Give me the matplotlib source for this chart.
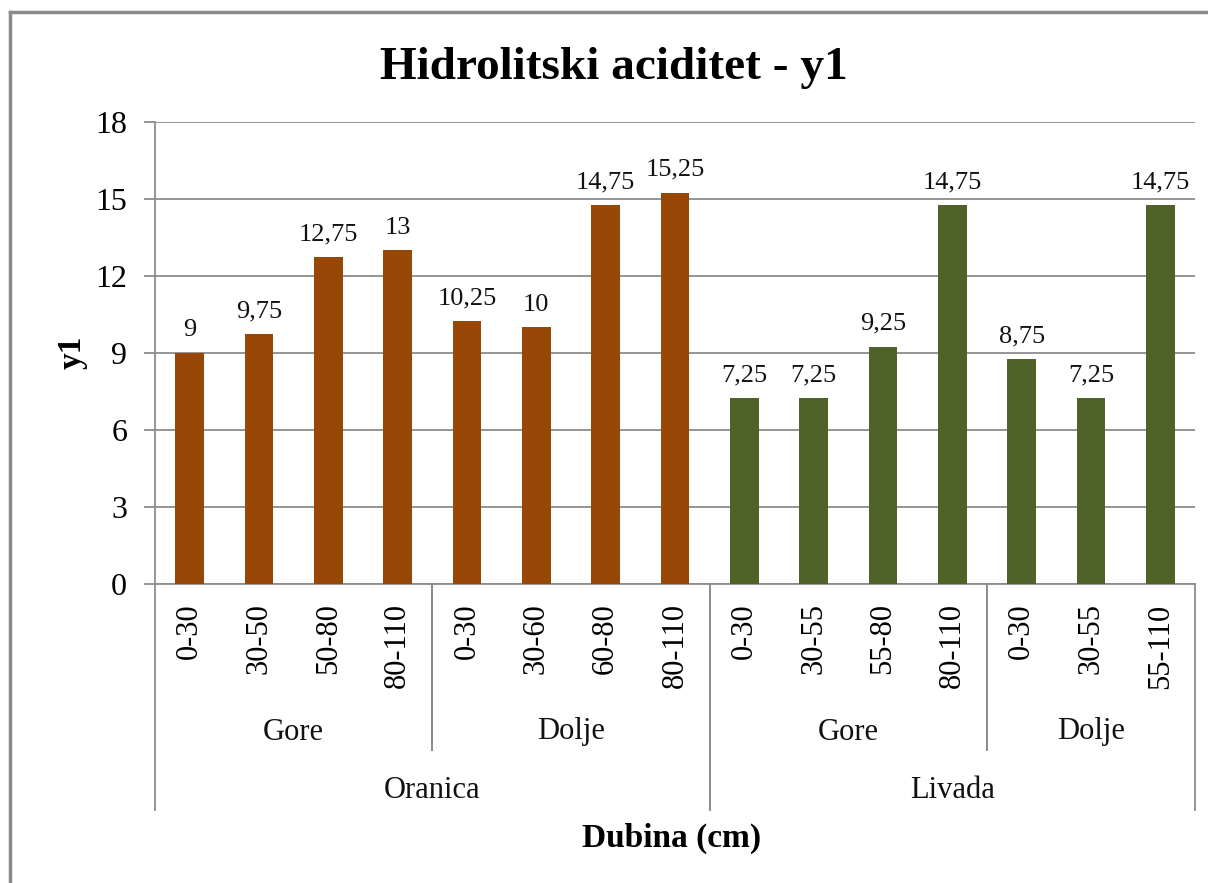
import matplotlib
matplotlib.use("Agg")
import matplotlib.pyplot as plt
import matplotlib.transforms as mtransforms
from matplotlib.lines import Line2D

plt.rcParams['font.family'] = ['Liberation Serif', 'DejaVu Serif']

# ---- data ----
depths = ["0-30", "30-50", "50-80", "80-110",
          "0-30", "30-60", "60-80", "80-110",
          "0-30", "30-55", "55-80", "80-110",
          "0-30", "30-55", "55-110"]
values = [9, 9.75, 12.75, 13,
          10.25, 10, 14.75, 15.25,
          7.25, 7.25, 9.25, 14.75,
          8.75, 7.25, 14.75]
positions = ["Gore", "Dolje", "Gore", "Dolje"]
position_sizes = [4, 4, 4, 3]
uses = ["Oranica", "Livada"]
use_sizes = [8, 7]
use_colors = ["#974706", "#4F6228"]
yticks = [0, 3, 6, 9, 12, 15, 18]
title = "Hidrolitski aciditet - y1"
xlabel = "Dubina (cm)"
ylabel = "y1"

W, H = 1208, 883
fig = plt.figure(figsize=(W / 100, H / 100), dpi=100)

ax_l, ax_r, ax_t, ax_b = 155, 1195, 122, 584
ax = fig.add_axes([ax_l / W, 1 - ax_b / H, (ax_r - ax_l) / W, (ax_b - ax_t) / H])

# colors per bar
bar_colors = []
for c, n in zip(use_colors, use_sizes):
    bar_colors += [c] * n
x = list(range(len(values)))
bars = ax.bar(x, values, width=0.41, color=bar_colors, zorder=3)

for xi, v in zip(x, values):
    lab = ("%g" % v).replace(".", ",")
    ax.annotate(lab, (xi, v), xytext=(0, 12), textcoords="offset points",
                ha="center", va="baseline", fontsize=19, color="#111111")

ax.set_xlim(-0.5, len(values) - 0.5)
ax.set_ylim(0, 18)
ax.set_yticks(yticks)
ax.set_yticklabels([str(t) for t in yticks], fontsize=23)
ax.yaxis.grid(True, color="#8c8c8c", linewidth=1.3, zorder=0)
ax.tick_params(axis="y", length=8, width=1.3, color="#8c8c8c", pad=12)
ax.set_xticks(x)
ax.set_xticklabels(depths, rotation=90, fontsize=22, va="top", ha="center")
ax.tick_params(axis="x", length=0, pad=14)

for s in ["top", "right"]:
    ax.spines[s].set_visible(False)
for s in ["left", "bottom"]:
    ax.spines[s].set_color("#8c8c8c")
    ax.spines[s].set_linewidth(1.3)

trans = mtransforms.blended_transform_factory(ax.transData, ax.transAxes)
ph = ax_b - ax_t
inner_y = -(750 - ax_b) / ph
outer_y = -(810 - ax_b) / ph
pos_lab_y = -(732 - ax_b) / ph
use_lab_y = -(790 - ax_b) / ph

outer_bounds = set()
acc = -0.5
outer_bounds.add(acc)
for n in use_sizes:
    acc += n
    outer_bounds.add(acc)

start = -0.5
for name, n in zip(positions, position_sizes):
    end = start + n
    ax.text((start + end) / 2, pos_lab_y, name, transform=trans, ha="center",
            va="center", fontsize=22, color="#111111")
    for b in (start, end):
        yb = outer_y if b in outer_bounds else inner_y
        ax.add_line(Line2D([b, b], [0, yb], transform=trans, color="#8c8c8c",
                           linewidth=1.3, clip_on=False))
    start = end

start = -0.5
for name, n in zip(uses, use_sizes):
    end = start + n
    ax.text((start + end) / 2, use_lab_y, name, transform=trans, ha="center",
            va="center", fontsize=22, color="#111111")
    start = end

fig.text(614 / W, 1 - 68 / H, title, ha="center", va="center",
         fontsize=34, fontweight="bold")
fig.text(672 / W, 1 - 838 / H, xlabel, ha="center", va="center",
         fontsize=24, fontweight="bold")
fig.text(72 / W, 1 - 352 / H, ylabel, ha="center", va="center",
         fontsize=24, fontweight="bold", rotation=90)

# outer chart border (left and top visible)
fig.add_artist(Line2D([10 / W, 10 / W], [0, 1 - 12 / H], transform=fig.transFigure,
                      color="#8a8a8a", linewidth=2.5))
fig.add_artist(Line2D([10 / W, 1], [1 - 12 / H, 1 - 12 / H], transform=fig.transFigure,
                      color="#8a8a8a", linewidth=2.5))

fig.savefig("out.png", dpi=100)
